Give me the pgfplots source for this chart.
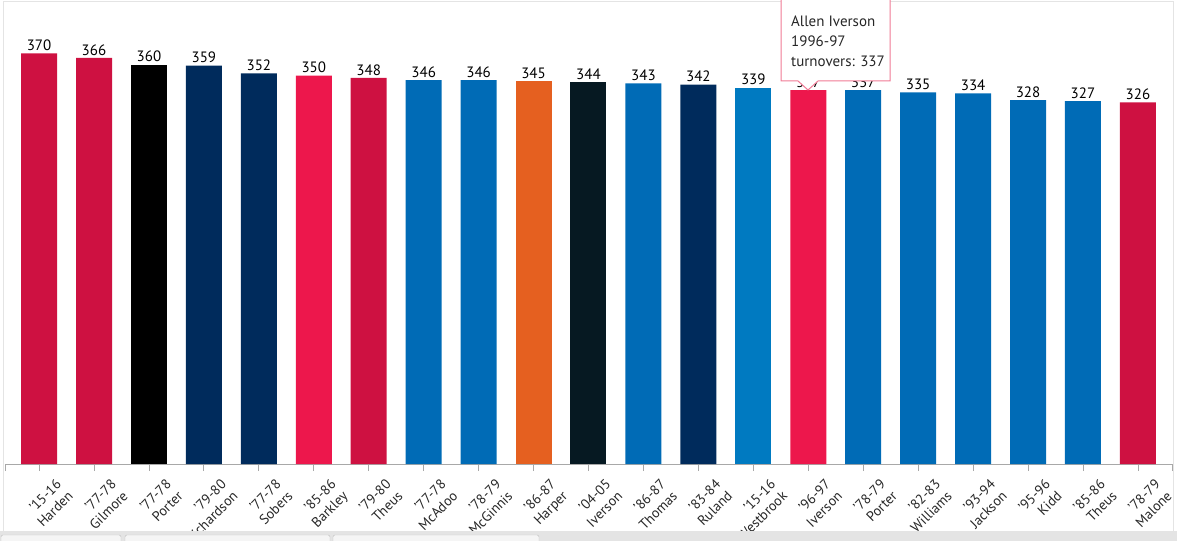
\documentclass[border=0pt]{standalone}
\usepackage{fontspec}
\setmainfont{PT Sans}
\usepackage{pgfplots}
\pgfplotsset{compat=1.18}

\definecolor{crimson}{HTML}{CE1141}
\definecolor{navy}{HTML}{002B5C}
\definecolor{brightred}{HTML}{ED174C}
\definecolor{royal}{HTML}{006BB6}
\definecolor{sunsorange}{HTML}{E56020}
\definecolor{darknavy}{HTML}{061922}
\definecolor{okc}{HTML}{007AC1}
\definecolor{axisgray}{HTML}{A8A8A8}
\definecolor{framegray}{HTML}{E4E4E4}
\definecolor{tipborder}{HTML}{F07A95}

\begin{document}
\begin{tikzpicture}
\begin{axis}[
    at={(0,0)}, anchor=south west,
    scale only axis,
    width=1167bp, height=462bp,
    ybar, bar width=36bp, bar shift=0pt,
    xmin=-0.62, xmax=20.62,
    ymin=0, ymax=416.4,
    axis x line*=bottom,
    axis y line=none,
    x axis line style={axisgray, line width=0.8bp},
    xtick={0,1,...,20},
    extra x ticks={-0.62,20.62},
    extra x tick labels={},
    extra x tick style={major tick length=7bp, tick style={axisgray, line width=0.8bp}},
    tick align=outside,
    major tick length=7bp,
    x tick style={axisgray, line width=0.8bp},
    xticklabels={
      {'15-16\\Harden},{'77-78\\Gilmore},{'77-78\\Porter},{'79-80\\Richardson},
      {'77-78\\Sobers},{'85-86\\Barkley},{'79-80\\Theus},{'77-78\\McAdoo},
      {'78-79\\McGinnis},{'86-87\\Harper},{'04-05\\Iverson},{'86-87\\Thomas},
      {'83-84\\Ruland},{'15-16\\Westbrook},{'96-97\\Iverson},{'78-79\\Porter},
      {'82-83\\Williams},{'93-94\\Jackson},{'95-96\\Kidd},{'85-86\\Theus},
      {'78-79\\Malone}},
    xticklabel style={font=\fontsize{14bp}{16.5bp}\selectfont, text=black!85,
      xshift=16bp, yshift=-2.5bp, rotate=45, anchor=north east, align=right},
    /pgf/number format/assume math mode=true,
    nodes near coords,
    every node near coord/.append style={font=\fontsize{15bp}{17bp}\selectfont,
      text=black, inner sep=2.5bp},
]
\addplot[fill=crimson, draw=none] coordinates {(0,370) (1,366) (6,348) (20,326)};
\addplot[fill=black, draw=none] coordinates {(2,360)};
\addplot[fill=navy, draw=none] coordinates {(3,359) (4,352) (12,342)};
\addplot[fill=brightred, draw=none] coordinates {(5,350) (14,337)};
\addplot[fill=royal, draw=none] coordinates {(7,346) (8,346) (11,343) (15,337) (16,335) (17,334) (18,328) (19,327)};
\addplot[fill=sunsorange, draw=none] coordinates {(9,345)};
\addplot[fill=darknavy, draw=none] coordinates {(10,344)};
\addplot[fill=okc, draw=none] coordinates {(13,339)};
\end{axis}

% overlay drawn in screen pixels (origin = axis corner at pixel 5,464)
\begin{scope}[shift={(-5bp,464bp)}, x=1bp, y=-1bp]
  % container frame
  \draw[framegray, line width=1bp] (4,541) -- (4,2) -- (1173,2) -- (1173,531);
  % tab strip at the bottom
  \fill[framegray] (0,531) rectangle (1177,541);
  \draw[black!25, fill=white!96!black, rounded corners=2bp] (1,535) rectangle (121,545);
  \draw[black!25, fill=white!96!black, rounded corners=2bp] (125,535) rectangle (330,545);
  \draw[black!25, fill=white!96!black, rounded corners=2bp] (333,535) rectangle (539,545);
  % tooltip
  \draw[tipborder, fill=white, line width=1bp]
    (781,-2) -- (781,81) -- (798,81) -- (808,90) -- (818,81) -- (890,81) -- (890,-2);
  \node[anchor=base west, inner sep=0pt, font=\fontsize{15bp}{17bp}\selectfont, text=black!85] at (791,27) {Allen Iverson};
  \node[anchor=base west, inner sep=0pt, font=\fontsize{15bp}{17bp}\selectfont, text=black!85] at (791,47) {1996-97};
  \node[anchor=base west, inner sep=0pt, font=\fontsize{15bp}{17bp}\selectfont, text=black!85] at (791,67) {turnovers: 337};
  \pgfresetboundingbox
  \path[use as bounding box] (0,0) rectangle (1177,541);
\end{scope}
\end{tikzpicture}
\end{document}
